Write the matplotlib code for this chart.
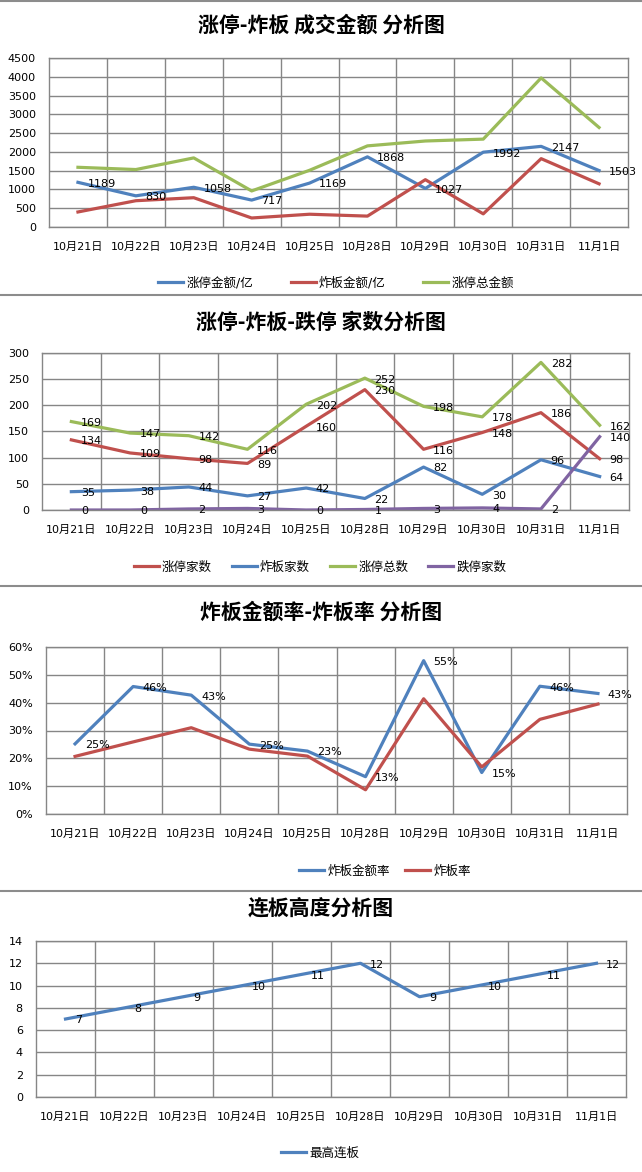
import numpy as np
import matplotlib
matplotlib.use('Agg')
import matplotlib.pyplot as plt
from matplotlib.lines import Line2D
from matplotlib.ticker import MultipleLocator, FuncFormatter

plt.rcParams['font.family'] = ['DejaVu Sans', 'Noto Sans CJK SC']

dates = ['10月21日', '10月22日', '10月23日', '10月24日', '10月25日',
         '10月28日', '10月29日', '10月30日', '10月31日', '11月1日']

# panel 1: amounts
zt_amount = [1189, 830, 1058, 717, 1169, 1868, 1027, 1992, 2147, 1503]
zb_amount = [400, 700, 780, 240, 340, 290, 1260, 350, 1820, 1150]
zt_total_amount = [1590, 1530, 1840, 960, 1510, 2160, 2290, 2340, 3970, 2650]

# panel 2: counts
zt_count = [134, 109, 98, 89, 160, 230, 116, 148, 186, 98]
zb_count = [35, 38, 44, 27, 42, 22, 82, 30, 96, 64]
zt_total_count = [169, 147, 142, 116, 202, 252, 198, 178, 282, 162]
dt_count = [0, 0, 2, 3, 0, 1, 3, 4, 2, 140]

# panel 3: rates (%)
zb_amount_rate = [25.2, 45.8, 42.7, 25.1, 22.6, 13.4, 55.1, 14.9, 45.9, 43.3]
zb_rate = [20.7, 25.9, 31.0, 23.3, 20.8, 8.7, 41.4, 16.9, 34.0, 39.5]

# panel 4: max consecutive boards
max_board = [7, 8, 9, 10, 11, 12, 9, 10, 11, 12]

BLUE = '#4F81BD'
RED = '#C0504D'
GREEN = '#9BBB59'
PURPLE = '#8064A2'
GRID = '#868686'

W, H = 642, 1172


def make_axes(fig, left, right, top, bottom):
    return fig.add_axes([left / W, 1 - bottom / H, (right - left) / W, (bottom - top) / H])


def setup_axes(ax, ymax, step, pct=False):
    x = np.arange(len(dates))
    ax.set_xlim(-0.5, len(dates) - 0.5)
    ax.set_ylim(0, ymax)
    ax.yaxis.set_major_locator(MultipleLocator(step))
    if pct:
        ax.yaxis.set_major_formatter(FuncFormatter(lambda v, p: '%d%%' % round(v)))
    ax.set_xticks(x)
    ax.set_xticklabels(dates)
    ax.set_xticks(np.arange(0.5, len(dates) - 1), minor=True)
    ax.grid(which='minor', axis='x', color=GRID, lw=1)
    ax.grid(which='major', axis='y', color=GRID, lw=1)
    ax.set_axisbelow(True)
    ax.tick_params(which='both', length=0, labelsize=8)
    ax.tick_params(axis='y', pad=9.5)
    ax.tick_params(axis='x', pad=10.5)
    for s in ax.spines.values():
        s.set_color(GRID)
        s.set_linewidth(1)


def plot_line(ax, values, color, label):
    return ax.plot(np.arange(len(values)), values, color=color, lw=2.3, label=label)[0]


def label_points(ax, values, fmt='{}'):
    for i, v in enumerate(values):
        ax.annotate(fmt.format(v), (i, v), xytext=(7, -1), textcoords='offset points',
                    ha='left', va='center', fontsize=8)


def add_legend(fig, handles, cx, cy, colspace):
    fig.legend(handles, [h.get_label() for h in handles], loc='center',
               bbox_to_anchor=(cx / W, 1 - cy / H), ncol=len(handles), frameon=False,
               fontsize=9, handlelength=2.0, handletextpad=0.25, columnspacing=colspace)


def add_title(fig, text, cy):
    fig.text(0.5, 1 - cy / H, text, ha='center', va='center', fontsize=15,
             fontweight='bold', family=['Noto Sans CJK SC', 'DejaVu Sans'])


def add_separator(fig, y):
    fig.add_artist(Line2D([0, 1], [1 - y / H, 1 - y / H], transform=fig.transFigure,
                          color='#8c8c8c', lw=1.5))


fig = plt.figure(figsize=(W / 100, H / 100), dpi=100)

for y in [0.8, 295, 586, 891]:
    add_separator(fig, y)

# panel 1
ax1 = make_axes(fig, 49, 628, 58, 227)
setup_axes(ax1, 4500, 500)
h1 = plot_line(ax1, zt_amount, BLUE, '涨停金额/亿')
h2 = plot_line(ax1, zb_amount, RED, '炸板金额/亿')
h3 = plot_line(ax1, zt_total_amount, GREEN, '涨停总金额')
label_points(ax1, zt_amount)
add_title(fig, '涨停-炸板 成交金额 分析图', 25)
add_legend(fig, [h1, h2, h3], 336, 283, 3.0)

# panel 2
ax2 = make_axes(fig, 42, 629, 353, 510)
setup_axes(ax2, 300, 50)
h1 = plot_line(ax2, zt_count, RED, '涨停家数')
h2 = plot_line(ax2, zb_count, BLUE, '炸板家数')
h3 = plot_line(ax2, zt_total_count, GREEN, '涨停总数')
h4 = plot_line(ax2, dt_count, PURPLE, '跌停家数')
for vals in [zt_count, zb_count, zt_total_count, dt_count]:
    label_points(ax2, vals)
add_title(fig, '涨停-炸板-跌停 家数分析图', 322)
add_legend(fig, [h1, h2, h3, h4], 320, 567, 1.6)

# panel 3
ax3 = make_axes(fig, 46, 627, 647, 814)
setup_axes(ax3, 60, 10, pct=True)
h1 = plot_line(ax3, zb_amount_rate, BLUE, '炸板金额率')
h2 = plot_line(ax3, zb_rate, RED, '炸板率')
label_points(ax3, zb_amount_rate, '{:.0f}%')
add_title(fig, '炸板金额率-炸板率 分析图', 612)
add_legend(fig, [h1, h2], 385, 871, 1.2)

# panel 4
ax4 = make_axes(fig, 36, 626, 941, 1097)
setup_axes(ax4, 14, 2)
h1 = plot_line(ax4, max_board, BLUE, '最高连板')
label_points(ax4, max_board)
add_title(fig, '连板高度分析图', 908)
add_legend(fig, [h1], 320, 1153, 1.0)

fig.savefig('out.png', dpi=100)
